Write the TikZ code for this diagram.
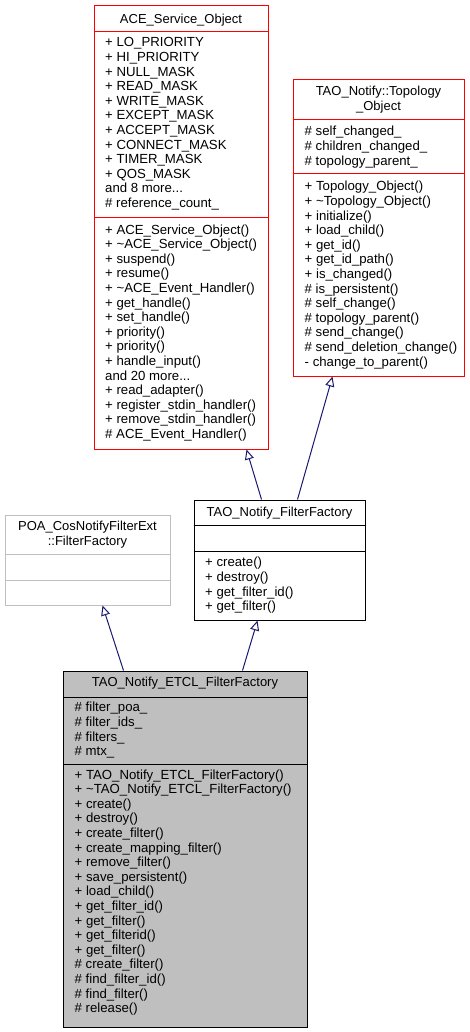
\documentclass[tikz,border=0pt]{standalone}
\usepackage{fontspec}
\setmainfont{Liberation Sans}
\usetikzlibrary{arrows.meta}
\definecolor{edgeblue}{HTML}{191970}
\definecolor{grey75}{HTML}{BFBFBF}
\tikzset{
  classbox/.style={draw=#1, line width=1pt, inner sep=0pt},
  member/.style={anchor=north west, align=left, inner sep=0pt,
    font=\fontsize{13.2}{14.6}\selectfont, execute at begin node=\strut},
  classname/.style={inner sep=0pt, align=center,
    font=\fontsize{13}{14.6}\selectfont, execute at begin node=\strut},
  inherit/.style={draw=edgeblue, line width=1pt,
    -{Triangle[open, length=10pt, width=9pt]}}
}
\begin{document}
\begin{tikzpicture}[x=1pt, y=-1pt]
	\useasboundingbox (0,0) rectangle (469,1032);

	%ACE_Service_Object
	\node[classbox=red, minimum width=174pt, minimum height=443pt] (ace) at (181,227.5) {};
	\draw[red, line width=1pt] (ace.west |- 0,32) -- (ace.east |- 0,32);
	\draw[red, line width=1pt] (ace.west |- 0,218) -- (ace.east |- 0,218);
	\node[classname, anchor=base] (acetitle) at (181,23.2) {ACE\_Service\_Object};
	\node[member] (aceattr) at (105,37.4) {+ LO\_PRIORITY\\+ HI\_PRIORITY\\+ NULL\_MASK\\+ READ\_MASK\\+ WRITE\_MASK\\+ EXCEPT\_MASK\\+ ACCEPT\_MASK\\+ CONNECT\_MASK\\+ TIMER\_MASK\\+ QOS\_MASK\\and 8 more...\\\# reference\_count\_};
	\node[member] (aceop) at (105,224.4) {+ ACE\_Service\_Object()\\+ \textasciitilde ACE\_Service\_Object()\\+ suspend()\\+ resume()\\+ \textasciitilde ACE\_Event\_Handler()\\+ get\_handle()\\+ set\_handle()\\+ priority()\\+ priority()\\+ handle\_input()\\and 20 more...\\+ read\_adapter()\\+ register\_stdin\_handler()\\+ remove\_stdin\_handler()\\\# ACE\_Event\_Handler()};

	%TAO_Notify::Topology_Object
	\node[classbox=red, minimum width=171pt, minimum height=296pt] (topo) at (378.5,228) {};
	\draw[red, line width=1pt] (topo.west |- 0,120) -- (topo.east |- 0,120);
	\draw[red, line width=1pt] (topo.west |- 0,174) -- (topo.east |- 0,174);
	\node[classname, anchor=north] (topotitle) at (378.5,86.1) {TAO\_Notify::Topology\\\_Object};
	\node[member] (topoattr) at (304.5,126.1) {\# self\_changed\_\\\# children\_changed\_\\\# topology\_parent\_};
	\node[member] (topoop) at (304.5,181.1) {+ Topology\_Object()\\+ \textasciitilde Topology\_Object()\\+ initialize()\\+ load\_child()\\+ get\_id()\\+ get\_id\_path()\\+ is\_changed()\\\# is\_persistent()\\\# self\_change()\\\# topology\_parent()\\\# send\_change()\\\# send\_deletion\_change()\\- change\_to\_parent()};

	%POA_CosNotifyFilterExt::FilterFactory
	\node[classbox=grey75, minimum width=165pt, minimum height=90pt] (poa) at (87.5,560) {};
	\draw[grey75, line width=1pt] (poa.west |- 0,554) -- (poa.east |- 0,554);
	\draw[grey75, line width=1pt] (poa.west |- 0,580) -- (poa.east |- 0,580);
	\node[classname, anchor=north] (poatitle) at (87.5,521.1) {POA\_CosNotifyFilterExt\\::FilterFactory};

	%TAO_Notify_FilterFactory
	\node[classbox=black, minimum width=171pt, minimum height=120pt] (ff) at (279.5,560) {};
	\draw[line width=1pt] (ff.west |- 0,525) -- (ff.east |- 0,525);
	\draw[line width=1pt] (ff.west |- 0,551) -- (ff.east |- 0,551);
	\node[classname, anchor=base] (fftitle) at (279.5,516.4) {TAO\_Notify\_FilterFactory};
	\node[member] (ffop) at (205,557.1) {+ create()\\+ destroy()\\+ get\_filter\_id()\\+ get\_filter()};

	%TAO_Notify_ETCL_FilterFactory
	\node[classbox=black, fill=grey75, minimum width=244pt, minimum height=356pt] (etcl) at (185,849) {};
	\draw[line width=1pt] (etcl.west |- 0,697) -- (etcl.east |- 0,697);
	\draw[line width=1pt] (etcl.west |- 0,764) -- (etcl.east |- 0,764);
	\node[classname, anchor=base] (etcltitle) at (185,686.4) {TAO\_Notify\_ETCL\_FilterFactory};
	\node[member] (etclattr) at (74.5,702.1) {\# filter\_poa\_\\\# filter\_ids\_\\\# filters\_\\\# mtx\_};
	\node[member] (etclop) at (74.5,769.4) {+ TAO\_Notify\_ETCL\_FilterFactory()\\+ \textasciitilde TAO\_Notify\_ETCL\_FilterFactory()\\+ create()\\+ destroy()\\+ create\_filter()\\+ create\_mapping\_filter()\\+ remove\_filter()\\+ save\_persistent()\\+ load\_child()\\+ get\_filter\_id()\\+ get\_filter()\\+ get\_filterid()\\+ get\_filter()\\\# create\_filter()\\\# find\_filter\_id()\\\# find\_filter()\\\# release()};

	%inheritance
	\draw[inherit] ([xshift=68pt]ff.north west) -- ([xshift=153pt]ace.south west);
	\draw[inherit] ([xshift=104pt]ff.north west) -- ([xshift=40pt]topo.south west);
	\draw[inherit] ([xshift=61pt]etcl.north west) -- ([xshift=98pt]poa.south west);
	\draw[inherit] ([xshift=180pt]etcl.north west) -- ([xshift=64pt]ff.south west);

\end{tikzpicture}
\end{document}
